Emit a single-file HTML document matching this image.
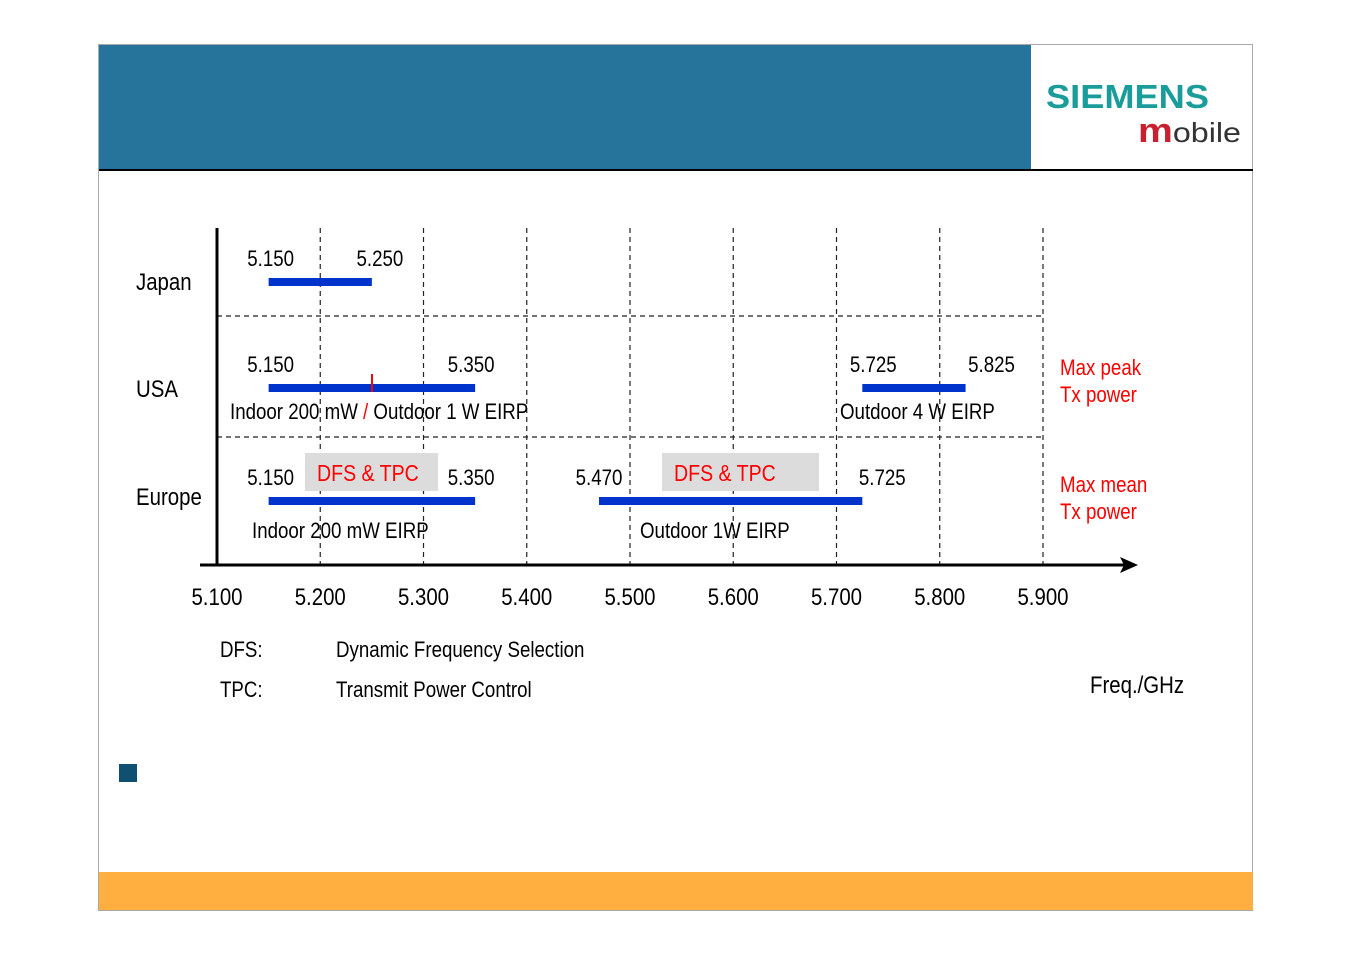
<!DOCTYPE html>
<html><head><meta charset="utf-8"><style>
html,body{margin:0;padding:0;background:#fff;}
svg{display:block;font-family:"Liberation Sans",sans-serif;}
</style></head><body>
<svg id="c" width="1351" height="954" xmlns="http://www.w3.org/2000/svg">
<rect x="98.5" y="44.5" width="1154" height="866" fill="#fff" stroke="#aaa"/>
<rect x="99" y="45" width="932" height="124" fill="#26749b"/>
<line x1="99" y1="170" x2="1253" y2="170" stroke="#000" stroke-width="2"/>
<text x="1046" y="108" font-weight="bold" font-size="33" fill="#1a9c9a" textLength="163" lengthAdjust="spacingAndGlyphs">SIEMENS</text>
<text x="1138" y="142" font-size="28" fill="#333" textLength="103" lengthAdjust="spacingAndGlyphs"><tspan fill="#c8202f" font-weight="bold" font-size="34">m</tspan>obile</text>
<rect x="99" y="872" width="1154" height="38" fill="#ffaf40"/>
<rect x="119" y="764" width="18" height="18" fill="#0e4f72"/>
<g id="chart"></g>
</svg>
<script>
const ticks=[5.100,5.200,5.300,5.400,5.500,5.600,5.700,5.800,5.900];
const regions=["Japan","USA","Europe"];
const bandStart=[5.150,5.150,5.725,5.150,5.470];
const bandEnd=[5.250,5.350,5.825,5.350,5.725];
const bandRegion=[0,1,1,2,2];
const startLabels=["5.150","5.150","5.725","5.150","5.470"];
const endLabels=["5.250","5.350","5.825","5.350","5.725"];
const NS="http://www.w3.org/2000/svg";
const g=document.getElementById('chart');
const x=v=>217+(v-5.1)/0.8*826;
const rowBar=[282,388,501];
const rowLabelY=[290,397,505];
const startOff=[2,2,11,2,0];
const endOff=[8,-4,26,-4,20];
function el(t,a,txt){const e=document.createElementNS(NS,t);for(const k in a)e.setAttribute(k,a[k]);if(txt!==undefined)e.textContent=txt;g.appendChild(e);return e;}
ticks.forEach((t,i)=>{
 if(i>0){const l=el('line',{x1:x(t),x2:x(t),y1:228,y2:565,stroke:'#222','stroke-dasharray':'5,4','stroke-width':1.2});
 
 }
 const tx=el('text',{x:x(t),y:605,'font-size':24,'text-anchor':'middle',fill:'#000'},t.toFixed(3));
 
 
});
[316,437].forEach(y=>{const l=el('line',{x1:217,x2:1043,y1:y,y2:y,stroke:'#222','stroke-dasharray':'5,4','stroke-width':1.2});

});
const ya=el('line',{x1:217,x2:217,y1:228,y2:566,stroke:'#000','stroke-width':3});


const xa=el('line',{x1:200,x2:1130,y1:565,y2:565,stroke:'#000','stroke-width':3});


const ar=el('path',{d:'M1138 565 L1120 557 L1124 565 L1120 573 Z',fill:'#000'});


regions.forEach((r,i)=>{const t=el('text',{x:136,y:rowLabelY[i],'font-size':24,fill:'#000'},r);

});
[[305,438],[662,819]].forEach((b,i)=>{const r=el('rect',{x:b[0],y:453,width:b[1]-b[0],height:38,fill:'#dcdcdc'});


const t=el('text',{x:b[0]+12,y:481,'font-size':23,fill:'#f00'},'DFS & TPC');

});
bandStart.forEach((s,i)=>{
 const y=rowBar[bandRegion[i]];
 const b=el('rect',{x:x(s),y:y-4,width:x(bandEnd[i])-x(s),height:8,fill:'#0033cc'});
 
 
 const t1=el('text',{x:x(s)+startOff[i],y:y-16,'font-size':22,'text-anchor':'middle',fill:'#000'},startLabels[i]);
 
 
 const t2=el('text',{x:x(bandEnd[i])+endOff[i],y:y-16,'font-size':22,'text-anchor':'middle',fill:'#000'},endLabels[i]);
 
 
});
const tick=el('line',{x1:372,x2:372,y1:374,y2:392,stroke:'#f00','stroke-width':2});


const notes=[[230,419,'Indoor 200 mW <tspan fill="#f00">/</tspan> Outdoor 1 W EIRP','usa-low-power-note'],[840,419,'Outdoor 4 W EIRP','usa-high-power-note'],[252,538,'Indoor 200 mW EIRP','eu-low-power-note'],[640,538,'Outdoor 1W EIRP','eu-high-power-note'],[220,657,'DFS:','dfs-abbr'],[336,657,'Dynamic Frequency Selection','dfs-def'],[220,697,'TPC:','tpc-abbr'],[336,697,'Transmit Power Control','tpc-def'],[1090,693,'Freq./GHz','x-axis-title']];
notes.forEach(n=>{const t=el('text',{x:n[0],y:n[1],'font-size':n[3]=='x-axis-title'?24:22,fill:'#000'});t.innerHTML=n[2];

});
[[1060,375,'Max peak'],[1060,402,'Tx power'],[1060,492,'Max mean'],[1060,519,'Tx power']].forEach(n=>{const t=el('text',{x:n[0],y:n[1],'font-size':22,fill:'#f00'},n[2]);

});
// condense text to match narrow typeface
g.querySelectorAll('text').forEach(t=>{const L=t.getComputedTextLength();t.setAttribute('textLength',(L*0.85).toFixed(1));t.setAttribute('lengthAdjust','spacingAndGlyphs');});
</script>
</body></html>
